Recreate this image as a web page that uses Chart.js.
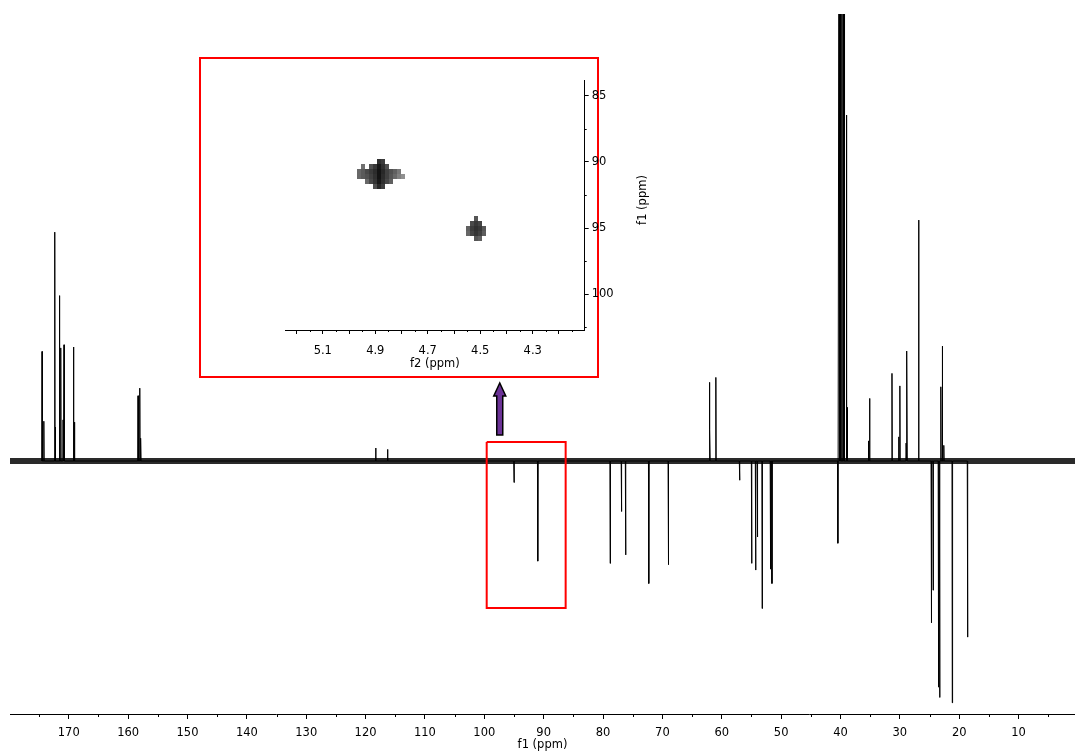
<!DOCTYPE html>
<html>
<head>
<meta charset="utf-8">
<script src="https://cdn.jsdelivr.net/npm/chart.js@4.4.1/dist/chart.umd.min.js"></script>
<style>
  html, body { margin: 0; padding: 0; background: #fff; }
  #wrap { position: relative; width: 1075px; height: 751px; overflow: hidden; }
  #main { position: absolute; left: 0; top: 0; }
  #insetBox { position: absolute; left: 199px; top: 57px; width: 400px; height: 321px; box-sizing: border-box; border: 2px solid #ff0000; background: #fff; }
  #inset { position: absolute; left: 199px; top: 57px; }
</style>
</head>
<body>
<div id="wrap">
  <canvas id="main" width="1075" height="751"></canvas>
  <div id="insetBox"></div>
  <canvas id="inset" width="461" height="323"></canvas>
</div>
<script>
// 13C DEPT-style spectrum: peak positions (ppm) and intensities (up = CH/CH3, down = CH2)
const peakPpm = [174.5, 174.2, 172.36, 172.24, 171.57, 171.35, 170.96, 170.8, 169.2, 169.04,
  158.33, 158.04, 157.87, 118.3, 116.3, 95.0, 91.0, 78.8, 76.9, 76.2, 72.3, 69.0,
  62.1, 62.0, 61.0, 57.0, 54.97, 54.3, 54.0, 53.2, 51.8, 51.55,
  40.45, 40.25, 40.05, 39.8, 39.55, 39.35, 39.0, 38.85,
  35.3, 35.1, 31.33, 30.2, 30.0, 28.95, 28.8, 26.84,
  24.7, 24.4, 23.5, 23.3, 23.1, 22.85, 22.6, 21.17, 18.6];
const peakHeight = [24.5, 8.9, 51.2, 7.6, 37.0, 25.3, 9.2, 26.0, 25.5, 8.7,
  14.6, 16.3, 5.1, 2.9, 2.6, -4.8, -22.4, -22.9, -11.3, -21.0, -27.4, -23.2,
  17.6, 7.0, 18.7, -4.3, -22.9, -24.4, -17.0, -33.0, -24.2, -27.4,
  -18.4, 150, 150, 150, 150, 150, 77.4, 12,
  4.5, 14.0, 19.6, 5.4, 16.8, 4.0, 24.6, 53.9,
  -36.2, -28.9, -50.6, -52.9, 16.6, 25.7, 3.5, -54.1, -39.4];

// noisy baseline band
const baselinePpm = [179.9, 0.5];
const baselineLevel = [0, 0];

// red box marking the region that is expanded in the inset, and the arrow
const zoomBoxPpm = [99.6, 86.3];
const zoomBoxLevel = [4.25, -32.9];
const arrowPpm = 97.4;
const arrowLevel = [5.8, 17.45];

// inset HSQC cross peaks (f2 = 1H ppm, f1 = 13C ppm), grey level per cell, 0 = empty
const bigF2 = [4.9635, 4.9482, 4.9328, 4.9175, 4.9021, 4.8868, 4.8715, 4.8561, 4.8408, 4.8254, 4.8101, 4.7947];
const bigF1 = [89.98, 90.36, 90.73, 91.11, 91.49, 91.87];
const bigShade = [
  [0, 0, 0, 0, 0, 48, 60, 0, 0, 0, 0, 0],
  [0, 112, 0, 80, 56, 24, 48, 80, 0, 0, 0, 0],
  [104, 90, 72, 58, 44, 20, 40, 64, 80, 96, 120, 0],
  [104, 90, 80, 64, 48, 20, 44, 64, 85, 104, 128, 144],
  [0, 0, 104, 72, 52, 24, 48, 72, 96, 0, 0, 0],
  [0, 0, 0, 0, 80, 40, 64, 0, 0, 0, 0, 0]
];
const smallF2 = [4.5456, 4.5303, 4.5149, 4.4996, 4.4843];
const smallF1 = [94.28, 94.66, 95.03, 95.41, 95.79];
const smallShade = [
  [0, 0, 85, 0, 0],
  [0, 74, 56, 68, 0],
  [96, 60, 48, 56, 88],
  [102, 68, 52, 64, 94],
  [0, 0, 85, 96, 0]
];

const FONT = 'DejaVu Sans';

// spectrum trace: each peak is a narrow spike rising from the baseline
const halfWidth = 0.05;
const spectrum = [];
peakPpm.forEach((p, i) => {
  spectrum.push({x: p + halfWidth, y: 0}, {x: p, y: peakHeight[i]}, {x: p - halfWidth, y: 0});
});
const baseline = baselinePpm.map((p, i) => ({x: p, y: baselineLevel[i]}));
const zoomBox = [
  {x: zoomBoxPpm[0], y: zoomBoxLevel[0]}, {x: zoomBoxPpm[1], y: zoomBoxLevel[0]},
  {x: zoomBoxPpm[1], y: zoomBoxLevel[1]}, {x: zoomBoxPpm[0], y: zoomBoxLevel[1]},
  {x: zoomBoxPpm[0], y: zoomBoxLevel[0]}
];

// small ticks between labelled ones
const minorTicks = {
  id: 'minorTicks',
  afterDraw(chart, args, opts) {
    const ctx = chart.ctx;
    ctx.save();
    ctx.strokeStyle = '#000';
    ctx.lineWidth = 1;
    opts.axes.forEach(a => {
      const s = chart.scales[a.id];
      for (let v = a.start; v <= s.max + 1e-9; v += a.step) {
        if (v < s.min) continue;
        const p = Math.round(s.getPixelForValue(v)) + 0.5;
        ctx.beginPath();
        if (s.isHorizontal()) {
          ctx.moveTo(p, s.top);
          ctx.lineTo(p, s.top + a.len);
        } else {
          ctx.moveTo(s.left, p);
          ctx.lineTo(s.left + a.len, p);
        }
        ctx.stroke();
      }
    });
    ctx.restore();
  }
};

const arrowPlugin = {
  id: 'arrow',
  afterDatasetsDraw(chart) {
    const {ctx, scales: {x, y}} = chart;
    const px = x.getPixelForValue(arrowPpm);
    const yBase = y.getPixelForValue(arrowLevel[0]);
    const yTip = y.getPixelForValue(arrowLevel[1]);
    const shaft = 3, head = 6, headLen = 13;
    ctx.save();
    ctx.beginPath();
    ctx.moveTo(px - shaft, yBase);
    ctx.lineTo(px - shaft, yTip + headLen);
    ctx.lineTo(px - head, yTip + headLen);
    ctx.lineTo(px, yTip);
    ctx.lineTo(px + head, yTip + headLen);
    ctx.lineTo(px + shaft, yTip + headLen);
    ctx.lineTo(px + shaft, yBase);
    ctx.closePath();
    ctx.fillStyle = '#6b3296';
    ctx.fill();
    ctx.lineWidth = 1.5;
    ctx.strokeStyle = '#000';
    ctx.stroke();
    ctx.restore();
  }
};

new Chart(document.getElementById('main'), {
  type: 'line',
  data: {
    datasets: [
      {data: zoomBox, borderColor: '#ff0000', borderWidth: 2, pointRadius: 0, tension: 0},
      {data: spectrum, borderColor: '#000', borderWidth: 1, pointRadius: 0, tension: 0},
      {data: baseline, borderColor: '#2a2a2a', borderWidth: 6, pointRadius: 0, tension: 0}
    ]
  },
  options: {
    responsive: false,
    animation: false,
    layout: {padding: {left: 10, right: 0, top: 14, bottom: 0}},
    plugins: {
      legend: {display: false},
      tooltip: {enabled: false},
      minorTicks: {axes: [{id: 'x', start: 5, step: 10, len: 3}]}
    },
    scales: {
      x: {
        type: 'linear', reverse: true, min: 0.5, max: 179.9,
        afterFit: s => { s.height = 37; },
        border: {display: true, color: '#000', width: 1},
        grid: {drawOnChartArea: false, drawTicks: true, tickLength: 5, tickColor: '#000'},
        ticks: {stepSize: 10, includeBounds: false, padding: 7, autoSkip: false, maxRotation: 0,
          color: '#000', font: {family: FONT, size: 11.5}},
        title: {display: true, text: 'f1 (ppm)', color: '#000',
          font: {family: FONT, size: 11.5, lineHeight: 1}, padding: {top: 0, bottom: 0}}
      },
      y: {display: false, min: -56.6, max: 100}
    }
  },
  plugins: [minorTicks, arrowPlugin]
});

// inset: expanded HSQC region
const cellCache = {};
function cellImage(shade) {
  if (!cellCache[shade]) {
    const c = document.createElement('canvas');
    c.width = 4; c.height = 5;
    const g = c.getContext('2d');
    g.fillStyle = 'rgb(' + shade + ',' + shade + ',' + shade + ')';
    g.fillRect(0, 0, 4, 5);
    cellCache[shade] = c;
  }
  return cellCache[shade];
}
const cells = [];
[[bigF2, bigF1, bigShade], [smallF2, smallF1, smallShade]].forEach(([f2, f1, shade]) => {
  shade.forEach((row, r) => row.forEach((g, c) => {
    if (g) cells.push({x: f2[c], y: f1[r], shade: g});
  }));
});

const insetTitle = {
  id: 'insetTitle',
  afterDraw(chart) {
    const {ctx, chartArea} = chart;
    ctx.save();
    ctx.translate(chartArea.right + 58, (chartArea.top + chartArea.bottom) / 2 - 5);
    ctx.rotate(-Math.PI / 2);
    ctx.font = '11.5px "' + FONT + '"';
    ctx.fillStyle = '#000';
    ctx.textAlign = 'center';
    ctx.textBaseline = 'middle';
    ctx.fillText('f1 (ppm)', 0, 0);
    ctx.restore();
  }
};

new Chart(document.getElementById('inset'), {
  type: 'scatter',
  data: {
    datasets: [{
      data: cells,
      pointStyle: ctx => cellImage(ctx.raw.shade),
      pointRadius: 2,
      borderWidth: 0
    }]
  },
  options: {
    responsive: false,
    animation: false,
    layout: {padding: {left: 86, top: 23, right: 0, bottom: 0}},
    plugins: {
      legend: {display: false},
      tooltip: {enabled: false},
      minorTicks: {axes: [
        {id: 'x', start: 4.15, step: 0.1, len: 2},
        {id: 'y', start: 87.5, step: 5, len: 2}
      ]}
    },
    scales: {
      x: {
        type: 'linear', reverse: true, min: 4.102, max: 5.244,
        afterFit: s => { s.height = 50; },
        border: {display: true, color: '#000', width: 1},
        grid: {drawOnChartArea: false, tickLength: 4, tickColor: '#000'},
        ticks: {stepSize: 0.1, includeBounds: false, padding: 10, autoSkip: false, maxRotation: 0,
          color: '#000', font: {family: FONT, size: 11.5},
          callback: v => (Math.round(v * 10) % 2 === 1 ? v.toFixed(1) : '')},
        title: {display: true, text: 'f2 (ppm)', color: '#000',
          font: {family: FONT, size: 11.5, lineHeight: 1.2}, padding: {top: 0, bottom: 9}}
      },
      y: {
        type: 'linear', position: 'right', reverse: true, min: 83.8, max: 102.71,
        afterFit: s => { s.width = 75.3; },
        border: {display: true, color: '#000', width: 1},
        grid: {drawOnChartArea: false, tickLength: 4, tickColor: '#000'},
        ticks: {stepSize: 5, includeBounds: false, padding: 3, autoSkip: false,
          color: '#000', font: {family: FONT, size: 11.5}}
      }
    }
  },
  plugins: [minorTicks, insetTitle]
});
</script>
</body>
</html>
